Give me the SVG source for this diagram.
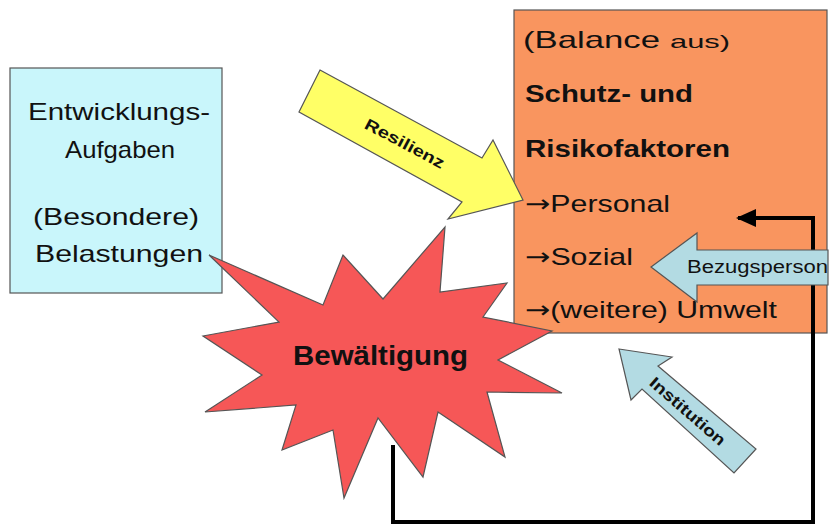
<svg xmlns="http://www.w3.org/2000/svg" width="836" height="525" viewBox="0 0 836 525">
<defs>
<style>
text{font-family:"Liberation Sans",Arial,sans-serif;fill:#111;}
.t{font-size:24px;}
.b{font-size:24px;font-weight:bold;}
.ar{font-family:"DejaVu Sans",sans-serif;}
.sh{stroke:#555;stroke-width:1.2;}
</style>
<marker id="ah" viewBox="0 0 20 18" refX="18" refY="9" markerWidth="20" markerHeight="18" markerUnits="userSpaceOnUse" orient="auto">
<path d="M0,0 L20,9 L0,18 z" fill="#000"/>
</marker>
</defs>
<rect width="836" height="525" fill="#fff"/>
<g id="entwicklung">
<rect x="10" y="68" width="212" height="225" fill="#c9f6fb" class="sh"/>
<text class="t" x="28" y="120" textLength="182" lengthAdjust="spacingAndGlyphs">Entwicklungs-</text>
<text class="t" x="65" y="158" textLength="110" lengthAdjust="spacingAndGlyphs">Aufgaben</text>
<text class="t" x="33" y="225" textLength="166" lengthAdjust="spacingAndGlyphs">(Besondere)</text>
<text class="t" x="35" y="262" textLength="168" lengthAdjust="spacingAndGlyphs">Belastungen</text>
</g>
<g id="schutz">
<rect x="514" y="10" width="313" height="323" fill="#f9955f" class="sh"/>
<text class="t" x="523" y="48" textLength="137" lengthAdjust="spacingAndGlyphs">(Balance</text>
<text x="670" y="48" style="font-size:19px" textLength="60" lengthAdjust="spacingAndGlyphs">aus)</text>
<text class="b" x="525" y="102" textLength="168" lengthAdjust="spacingAndGlyphs">Schutz- und</text>
<text class="b" x="525" y="157" textLength="205" lengthAdjust="spacingAndGlyphs">Risikofaktoren</text>
<text class="t" x="525" y="212" textLength="145" lengthAdjust="spacingAndGlyphs"><tspan class="ar">→</tspan>Personal</text>
<text class="t" x="525" y="265" textLength="108" lengthAdjust="spacingAndGlyphs"><tspan class="ar">→</tspan>Sozial</text>
<text class="t" x="525" y="318" textLength="252" lengthAdjust="spacingAndGlyphs"><tspan class="ar">→</tspan>(weitere) Umwelt</text>
</g>
<g id="bewaeltigung">
<polygon points="209,255 323,305 343,255 383,299 445,227 440,292 507,283 483,317 552,331 498,360 562,393 487,392 505,457 438,412 423,477 378,418 344,498 333,430 282,450 296,405 205,412 262,375 203,336 279,322" fill="#f65757" class="sh"/>
<text x="293" y="365" style="font-size:27px;font-weight:bold" textLength="175" lengthAdjust="spacingAndGlyphs">Bewältigung</text>
</g>
<g id="resilienz">
<polygon points="320,70 482,158 493,140 523,200 448,219 462,202 299,112" fill="#ffff66" class="sh"/>
<text transform="translate(405,143) rotate(28)" x="-44" y="6" style="font-size:16px;font-weight:bold" textLength="88" lengthAdjust="spacingAndGlyphs">Resilienz</text>
</g>
<g id="connectors">
<path d="M393,445 V522 H813 V218 H738" fill="none" stroke="#000" stroke-width="4" marker-end="url(#ah)"/>
</g>
<g id="bezugsperson">
<polygon points="651,267 697,233 697,250 828,250 828,285 697,285 697,302" fill="#b3dbe3" class="sh"/>
<text x="687" y="273" style="font-size:18px" textLength="141" lengthAdjust="spacingAndGlyphs">Bezugsperson</text>
</g>
<g id="institution">
<polygon points="619,349 672,357 658,366 756,449 734,473 642,389 631,400" fill="#b3dbe3" class="sh"/>
<text transform="translate(688,411) rotate(41)" x="-47.5" y="6" style="font-size:16px;font-weight:bold" textLength="95" lengthAdjust="spacingAndGlyphs">Institution</text>
</g>
</svg>
